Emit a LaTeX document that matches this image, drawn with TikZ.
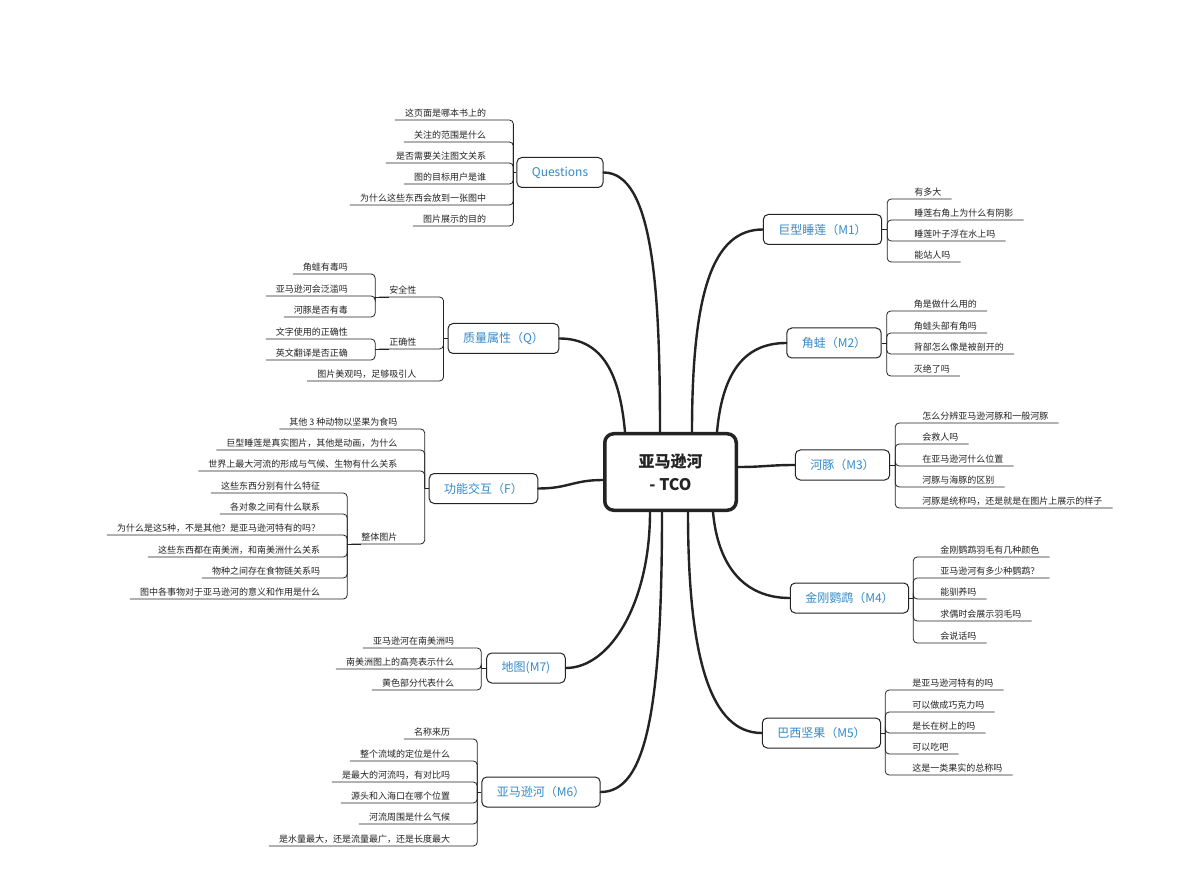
\documentclass[tikz,border=0pt]{standalone}
\usepackage{fontspec}
\setmainfont{Noto Sans CJK SC}
\definecolor{branchblue}{RGB}{52,138,199}
\definecolor{inkgray}{RGB}{35,35,35}

\begin{document}
\begin{tikzpicture}[
    x=1pt, y=-1pt,
    tco/.style={draw=inkgray, line width=3.5pt, rounded corners=9pt,
        minimum width=131.5pt, minimum height=76.5pt, align=center,
        font=\fontsize{16}{23}\selectfont\bfseries, text=inkgray},
    branch/.style={draw=inkgray, line width=1pt, rounded corners=5pt,
        minimum height=30pt, inner xsep=15pt,
        font=\fontsize{12}{14}\selectfont, text=branchblue},
    leaf/.style={inner xsep=0pt, inner ysep=2.5pt,
        font=\fontsize{9}{11}\selectfont, text=inkgray},
    twig/.style={draw=inkgray, line width=0.8pt, rounded corners=4pt},
    trunk/.style={draw=inkgray, line width=2.4pt, line cap=round}
]
    \useasboundingbox[fill=white] (0,0) rectangle (1181,874);

    % centre
    \node[tco] (tco) at (670.5,472) {亚马逊河\\- TCO};

    % main topics
    \node[branch] (ques) at (560,172.5)   {Questions};
    \node[branch] (qa)   at (503.5,338.5) {质量属性（Q）};
    \node[branch] (func) at (483.5,488.5) {功能交互（F）};
    \node[branch] (map)  at (526,668)     {地图(M7)};
    \node[branch] (amz)  at (541,792)     {亚马逊河（M6）};
    \node[branch] (m1)   at (822.5,229.5) {巨型睡莲（M1）};
    \node[branch] (m2)   at (834,343)     {角蛙（M2）};
    \node[branch] (m3)   at (842.5,465)   {河豚（M3）};
    \node[branch] (m4)   at (849.5,598)   {金刚鹦鹉（M4）};
    \node[branch] (m5)   at (821.5,733)   {巴西坚果（M5）};

    % trunks
    \draw[trunk] ([xshift=-10.5pt]tco.north) .. controls +(0,-140) and +(50,0) .. (ques.east);
    \draw[trunk] ([xshift=-45.5pt]tco.north) .. controls +(-5,-55) and +(45,0) .. (qa.east);
    \draw[trunk] ([xshift=21.5pt]tco.north) .. controls +(0,-140) and +(-50,0) .. (m1.west);
    \draw[trunk] ([xshift=46.5pt]tco.north) .. controls +(5,-55) and +(-45,0) .. (m2.west);
    \draw[trunk] ([yshift=5pt]tco.east) .. controls +(25,0) and +(-25,0) .. (m3.west);
    \draw[trunk] ([yshift=-8pt]tco.west) .. controls +(-30,0) and +(30,0) .. (func.east);
    \draw[trunk] ([xshift=-20.5pt]tco.south) .. controls +(0,90) and +(45,0) .. (map.east);
    \draw[trunk] ([xshift=-8.5pt]tco.south) .. controls +(0,200) and +(45,0) .. (amz.east);
    \draw[trunk] ([xshift=42.5pt]tco.south) .. controls +(5,55) and +(-45,0) .. (m4.west);
    \draw[trunk] ([xshift=17.5pt]tco.south) .. controls +(0,150) and +(-50,0) .. (m5.west);

    % Questions
    \coordinate (quesbr) at ([xshift=-3pt]ques.west);
    \draw[twig] (ques.west) -- (quesbr);
    \foreach \y/\txt [count=\i] in {120/这页面是哪本书上的, 142/关注的范围是什么,
        163/是否需要关注图文关系, 184/图的目标用户是谁,
        205/为什么这些东西会放到一张图中, 226/图片展示的目的} {
        \node[leaf, anchor=south east, xshift=-27pt] (ques\i) at (quesbr |- 0,\y) {\txt};
        \draw[twig] ([xshift=-10pt]ques\i.south west) -- (ques\i.south east -| quesbr) -- (quesbr);
    }

    % quality
    \coordinate (qabr) at ([xshift=-4pt]qa.west);
    \draw[twig] (qa.west) -- (qabr);
    \foreach \y/\txt [count=\i] in {297/安全性, 349/正确性, 381/图片美观吗，足够吸引人} {
        \node[leaf, anchor=south east, xshift=-27pt] (qa\i) at (qabr |- 0,\y) {\txt};
        \draw[twig] ([xshift=-10pt]qa\i.south west) -- (qa\i.south east -| qabr) -- (qabr);
    }
    \coordinate (safebr) at ([xshift=-14pt]qa1.south west);
    \draw[twig] (safebr) -- (qa1.south west);
    \foreach \y/\txt [count=\i] in {274/角蛙有毒吗, 296/亚马逊河会泛滥吗, 317/河豚是否有毒} {
        \node[leaf, anchor=south east, xshift=-27pt] (safe\i) at (safebr |- 0,\y) {\txt};
        \draw[twig] ([xshift=-10pt]safe\i.south west) -- (safe\i.south east -| safebr) -- (safebr);
    }
    \coordinate (corrbr) at ([xshift=-14pt]qa2.south west);
    \draw[twig] (corrbr) -- (qa2.south west);
    \foreach \y/\txt [count=\i] in {339/文字使用的正确性, 360/英文翻译是否正确} {
        \node[leaf, anchor=south east, xshift=-27pt] (corr\i) at (corrbr |- 0,\y) {\txt};
        \draw[twig] ([xshift=-10pt]corr\i.south west) -- (corr\i.south east -| corrbr) -- (corrbr);
    }

    % function
    \coordinate (funcbr) at ([xshift=-4pt]func.west);
    \draw[twig] (func.west) -- (funcbr);
    \foreach \y/\txt [count=\i] in {429/其他 3 种动物以坚果为食吗,
        450/巨型睡莲是真实图片，其他是动画，为什么,
        471/世界上最大河流的形成与气候、生物有什么关系, 544/整体图片} {
        \node[leaf, anchor=south east, xshift=-27pt] (func\i) at (funcbr |- 0,\y) {\txt};
        \draw[twig] ([xshift=-10pt]func\i.south west) -- (func\i.south east -| funcbr) -- (funcbr);
    }
    \coordinate (wholebr) at ([xshift=-14pt]func4.south west);
    \draw[twig] (wholebr) -- (func4.south west);
    \foreach \y/\txt [count=\i] in {493/这些东西分别有什么特征, 514/各对象之间有什么联系,
        535/为什么是这5种，不是其他？是亚马逊河特有的吗？,
        557/这些东西都在南美洲，和南美洲什么关系, 578/物种之间存在食物链关系吗,
        599/图中各事物对于亚马逊河的意义和作用是什么} {
        \node[leaf, anchor=south east, xshift=-27pt] (whole\i) at (wholebr |- 0,\y) {\txt};
        \draw[twig] ([xshift=-10pt]whole\i.south west) -- (whole\i.south east -| wholebr) -- (wholebr);
    }

    % map
    \coordinate (mapbr) at ([xshift=-5pt]map.west);
    \draw[twig] (map.west) -- (mapbr);
    \foreach \y/\txt [count=\i] in {648/亚马逊河在南美洲吗, 669/南美洲图上的高亮表示什么, 690/黄色部分代表什么} {
        \node[leaf, anchor=south east, xshift=-27pt] (map\i) at (mapbr |- 0,\y) {\txt};
        \draw[twig] ([xshift=-10pt]map\i.south west) -- (map\i.south east -| mapbr) -- (mapbr);
    }

    % river
    \coordinate (amzbr) at ([xshift=-4pt]amz.west);
    \draw[twig] (amz.west) -- (amzbr);
    \foreach \y/\txt [count=\i] in {739/名称来历, 761/整个流域的定位是什么,
        782/是最大的河流吗，有对比吗, 803/源头和入海口在哪个位置,
        824/河流周围是什么气候, 846/是水量最大，还是流量最广，还是长度最大} {
        \node[leaf, anchor=south east, xshift=-27pt] (amz\i) at (amzbr |- 0,\y) {\txt};
        \draw[twig] ([xshift=-10pt]amz\i.south west) -- (amz\i.south east -| amzbr) -- (amzbr);
    }

    % M1
    \coordinate (m1br) at ([xshift=5pt]m1.east);
    \draw[twig] (m1.east) -- (m1br);
    \foreach \y/\txt [count=\i] in {199/有多大, 220/睡莲右角上为什么有阴影,
        241/睡莲叶子浮在水上吗, 262/能站人吗} {
        \node[leaf, anchor=south west, xshift=27pt] (mone\i) at (m1br |- 0,\y) {\txt};
        \draw[twig] ([xshift=10pt]mone\i.south east) -- (mone\i.south west -| m1br) -- (m1br);
    }

    % M2
    \coordinate (m2br) at ([xshift=5pt]m2.east);
    \draw[twig] (m2.east) -- (m2br);
    \foreach \y/\txt [count=\i] in {311/角是做什么用的, 333/角蛙头部有角吗,
        354/背部怎么像是被剖开的, 376/灭绝了吗} {
        \node[leaf, anchor=south west, xshift=27pt] (mtwo\i) at (m2br |- 0,\y) {\txt};
        \draw[twig] ([xshift=10pt]mtwo\i.south east) -- (mtwo\i.south west -| m2br) -- (m2br);
    }

    % M3
    \coordinate (m3br) at ([xshift=5pt]m3.east);
    \draw[twig] (m3.east) -- (m3br);
    \foreach \y/\txt [count=\i] in {423/怎么分辨亚马逊河豚和一般河豚, 444/会救人吗,
        466/在亚马逊河什么位置, 487/河豚与海豚的区别,
        508/河豚是统称吗，还是就是在图片上展示的样子} {
        \node[leaf, anchor=south west, xshift=27pt] (mthree\i) at (m3br |- 0,\y) {\txt};
        \draw[twig] ([xshift=10pt]mthree\i.south east) -- (mthree\i.south west -| m3br) -- (m3br);
    }

    % M4
    \coordinate (m4br) at ([xshift=4pt]m4.east);
    \draw[twig] (m4.east) -- (m4br);
    \foreach \y/\txt [count=\i] in {557/金刚鹦鹉羽毛有几种颜色, 578/亚马逊河有多少种鹦鹉？,
        599/能驯养吗, 621/求偶时会展示羽毛吗, 643/会说话吗} {
        \node[leaf, anchor=south west, xshift=27pt] (mfour\i) at (m4br |- 0,\y) {\txt};
        \draw[twig] ([xshift=10pt]mfour\i.south east) -- (mfour\i.south west -| m4br) -- (m4br);
    }

    % M5
    \coordinate (m5br) at ([xshift=4pt]m5.east);
    \draw[twig] (m5.east) -- (m5br);
    \foreach \y/\txt [count=\i] in {690/是亚马逊河特有的吗, 712/可以做成巧克力吗,
        733/是长在树上的吗, 754/可以吃吧, 775/这是一类果实的总称吗} {
        \node[leaf, anchor=south west, xshift=27pt] (mfive\i) at (m5br |- 0,\y) {\txt};
        \draw[twig] ([xshift=10pt]mfive\i.south east) -- (mfive\i.south west -| m5br) -- (m5br);
    }
\end{tikzpicture}
\end{document}
